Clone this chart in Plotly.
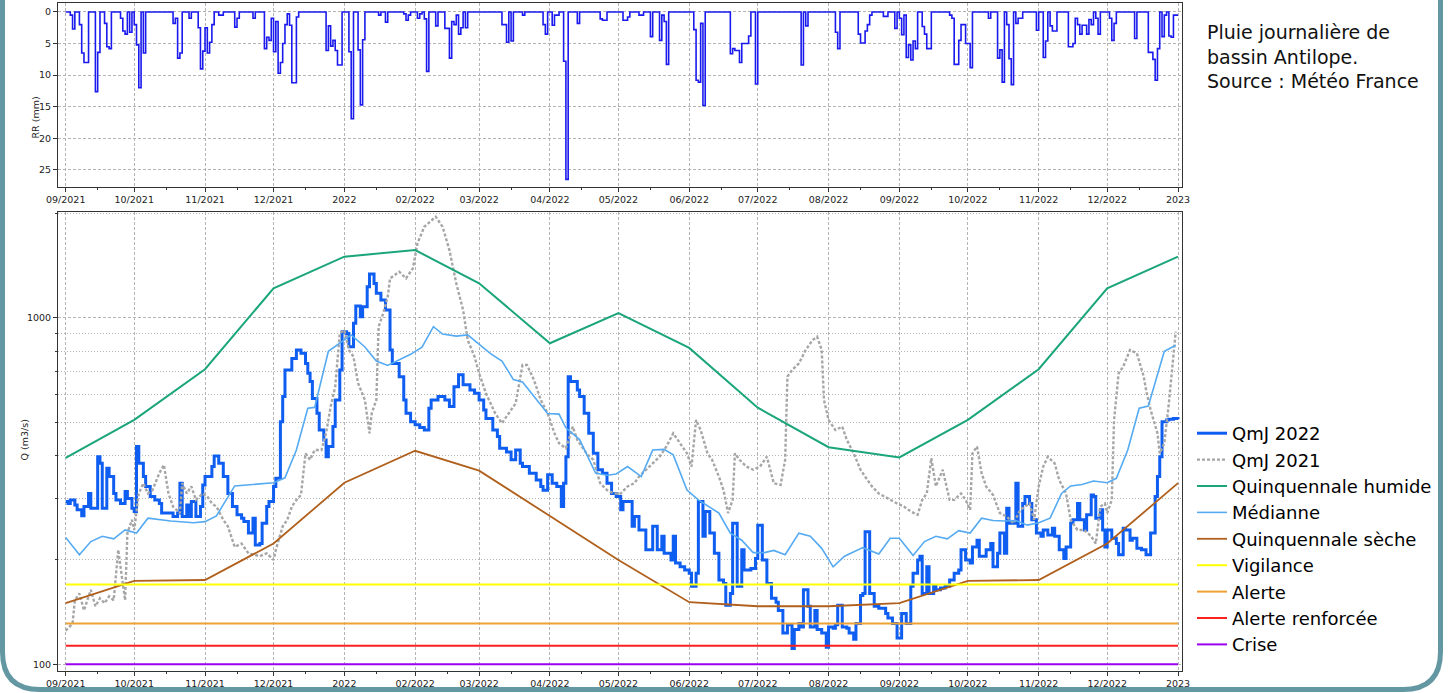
import plotly.graph_objects as go

W, H = 1456, 693

# pluie journalière de bassin (mm), tracée en marches
RAIN = [
    ("2021-09-01", 0), ("2021-09-03", 0.5), ("2021-09-04", 2.7), ("2021-09-05", 0), ("2021-09-07", 2),
    ("2021-09-08", 6.5), ("2021-09-09", 8), ("2021-09-11", 0), ("2021-09-14", 12.6), ("2021-09-15", 6.4),
    ("2021-09-16", 0), ("2021-09-18", 1.8), ("2021-09-19", 5.5), ("2021-09-20", 5.8), ("2021-09-21", 0),
    ("2021-09-25", 1), ("2021-09-26", 3), ("2021-09-27", 3.5), ("2021-09-28", 0), ("2021-09-29", 3.2),
    ("2021-09-30", 0), ("2021-10-01", 2), ("2021-10-02", 5.2), ("2021-10-03", 12), ("2021-10-04", 0),
    ("2021-10-05", 6.5), ("2021-10-06", 0), ("2021-10-18", 1.8), ("2021-10-19", 1), ("2021-10-20", 7.3),
    ("2021-10-21", 6.5), ("2021-10-22", 0), ("2021-10-25", 1), ("2021-10-26", 0), ("2021-10-29", 2.5),
    ("2021-10-30", 9), ("2021-10-31", 6.2), ("2021-11-01", 2.5), ("2021-11-02", 6.5), ("2021-11-03", 4.8),
    ("2021-11-04", 2), ("2021-11-05", 0), ("2021-11-07", 0.5), ("2021-11-09", 0), ("2021-11-14", 2.4),
    ("2021-11-15", 1), ("2021-11-16", 0), ("2021-11-22", 1), ("2021-11-23", 0), ("2021-11-27", 5.8),
    ("2021-11-28", 4), ("2021-11-29", 4.5), ("2021-11-30", 1), ("2021-12-01", 6.3), ("2021-12-02", 1.5),
    ("2021-12-03", 9.7), ("2021-12-04", 8), ("2021-12-05", 5), ("2021-12-06", 2), ("2021-12-07", 0.3),
    ("2021-12-08", 2.1), ("2021-12-09", 11.2), ("2021-12-11", 0.8), ("2021-12-12", 0), ("2021-12-24", 6.1),
    ("2021-12-25", 2.2), ("2021-12-26", 5.4), ("2021-12-27", 4.5), ("2021-12-28", 6.1), ("2021-12-29", 8.4),
    ("2021-12-31", 0), ("2022-01-03", 6.3), ("2022-01-04", 16.9), ("2022-01-05", 0), ("2022-01-07", 6),
    ("2022-01-08", 14.7), ("2022-01-09", 4.4), ("2022-01-10", 0), ("2022-01-16", 0.5), ("2022-01-17", 0),
    ("2022-01-19", 1.6), ("2022-01-20", 0), ("2022-01-27", 0.3), ("2022-01-28", 1.3), ("2022-01-29", 0.5),
    ("2022-01-30", 0), ("2022-02-02", 1), ("2022-02-03", 0.3), ("2022-02-04", 0), ("2022-02-05", 1.1),
    ("2022-02-06", 9.4), ("2022-02-07", 0), ("2022-02-10", 2.2), ("2022-02-11", 0), ("2022-02-14", 2.6),
    ("2022-02-16", 7.3), ("2022-02-17", 1.5), ("2022-02-18", 2), ("2022-02-19", 0.5), ("2022-02-20", 3.5),
    ("2022-02-21", 2.5), ("2022-02-22", 0), ("2022-02-23", 2.5), ("2022-02-24", 0), ("2022-03-11", 2),
    ("2022-03-13", 4.8), ("2022-03-14", 0), ("2022-03-15", 4.6), ("2022-03-16", 0), ("2022-03-20", 0.5),
    ("2022-03-21", 0), ("2022-03-29", 2), ("2022-03-30", 3.5), ("2022-03-31", 0), ("2022-04-02", 2.1),
    ("2022-04-03", 0.5), ("2022-04-05", 0), ("2022-04-07", 7.8), ("2022-04-08", 26.5), ("2022-04-09", 0),
    ("2022-04-13", 1.8), ("2022-04-14", 0), ("2022-04-23", 1.1), ("2022-04-24", 1.3), ("2022-04-26", 0),
    ("2022-05-03", 1.3), ("2022-05-05", 0.8), ("2022-05-06", 0), ("2022-05-10", 0.5), ("2022-05-12", 0),
    ("2022-05-15", 3.9), ("2022-05-16", 0), ("2022-05-19", 4.5), ("2022-05-20", 0.5), ("2022-05-21", 1.5),
    ("2022-05-22", 8.3), ("2022-05-23", 0), ("2022-06-03", 2.8), ("2022-06-04", 10.8), ("2022-06-05", 11.1),
    ("2022-06-06", 1.8), ("2022-06-07", 14.8), ("2022-06-08", 0), ("2022-06-19", 6.6), ("2022-06-20", 5.8),
    ("2022-06-21", 6.1), ("2022-06-23", 8), ("2022-06-24", 5), ("2022-06-27", 3.8), ("2022-06-28", 0),
    ("2022-06-30", 11.4), ("2022-07-01", 0), ("2022-07-20", 8.4), ("2022-07-21", 0), ("2022-07-22", 2.2),
    ("2022-07-23", 0), ("2022-08-04", 3.2), ("2022-08-05", 5.8), ("2022-08-06", 0), ("2022-08-14", 3.5),
    ("2022-08-15", 4.9), ("2022-08-17", 3), ("2022-08-18", 2), ("2022-08-19", 0.5), ("2022-08-20", 0),
    ("2022-08-25", 0.7), ("2022-08-27", 0), ("2022-08-30", 2.6), ("2022-08-31", 0), ("2022-09-01", 1),
    ("2022-09-02", 3.6), ("2022-09-03", 0.5), ("2022-09-04", 7.2), ("2022-09-05", 5.2), ("2022-09-06", 7.6),
    ("2022-09-07", 4.6), ("2022-09-08", 5.8), ("2022-09-09", 0), ("2022-09-11", 2.3), ("2022-09-12", 3.5),
    ("2022-09-13", 5.8), ("2022-09-15", 0), ("2022-09-23", 0.5), ("2022-09-24", 1), ("2022-09-25", 8.3),
    ("2022-09-27", 4.5), ("2022-09-28", 2), ("2022-09-30", 5), ("2022-10-02", 8.8), ("2022-10-03", 0),
    ("2022-10-10", 1), ("2022-10-11", 0), ("2022-10-14", 7.3), ("2022-10-15", 6), ("2022-10-16", 11.1),
    ("2022-10-17", 0), ("2022-10-18", 2), ("2022-10-19", 7.4), ("2022-10-20", 11.5), ("2022-10-21", 0),
    ("2022-10-22", 1.8), ("2022-10-23", 1), ("2022-10-25", 0), ("2022-10-31", 2.9), ("2022-11-01", 0),
    ("2022-11-03", 7.2), ("2022-11-04", 4.6), ("2022-11-05", 0), ("2022-11-06", 2.2), ("2022-11-07", 3),
    ("2022-11-09", 0), ("2022-11-14", 5.5), ("2022-11-16", 5), ("2022-11-17", 1), ("2022-11-18", 2),
    ("2022-11-19", 3.5), ("2022-11-20", 2.1), ("2022-11-22", 3.5), ("2022-11-23", 1.2), ("2022-11-24", 2),
    ("2022-11-25", 0), ("2022-11-26", 1), ("2022-11-27", 3.5), ("2022-11-28", 0), ("2022-12-02", 1),
    ("2022-12-03", 4.5), ("2022-12-04", 1.8), ("2022-12-05", 0), ("2022-12-13", 4.2), ("2022-12-14", 0),
    ("2022-12-19", 6.4), ("2022-12-21", 7.5), ("2022-12-22", 10.8), ("2022-12-23", 5.8), ("2022-12-24", 0),
    ("2022-12-25", 3.9), ("2022-12-26", 0.5), ("2022-12-27", 0), ("2022-12-28", 3.8), ("2022-12-29", 4),
    ("2022-12-30", 0.5), ("2023-01-01", 0.5),
]

# débit moyen journalier 2022 (m3/s)
QMJ_2022 = [
    ("2021-09-01", 295), ("2021-09-02", 291), ("2021-09-03", 298), ("2021-09-05", 288), ("2021-09-06", 279),
    ("2021-09-08", 268), ("2021-09-09", 285), ("2021-09-11", 311), ("2021-09-12", 282), ("2021-09-15", 397),
    ("2021-09-16", 380), ("2021-09-17", 282), ("2021-09-19", 368), ("2021-09-20", 348), ("2021-09-22", 311),
    ("2021-09-23", 298), ("2021-09-25", 291), ("2021-09-27", 315), ("2021-09-28", 301), ("2021-09-30", 282),
    ("2021-10-01", 276), ("2021-10-02", 425), ("2021-10-03", 380), ("2021-10-05", 348), ("2021-10-06", 326),
    ("2021-10-08", 305), ("2021-10-10", 298), ("2021-10-12", 291), ("2021-10-13", 273), ("2021-10-18", 267),
    ("2021-10-20", 273), ("2021-10-21", 333), ("2021-10-22", 267), ("2021-10-24", 288), ("2021-10-25", 267),
    ("2021-10-26", 295), ("2021-10-28", 267), ("2021-10-30", 285), ("2021-10-31", 329), ("2021-11-01", 348),
    ("2021-11-04", 372), ("2021-11-05", 399), ("2021-11-07", 380), ("2021-11-09", 348), ("2021-11-11", 311),
    ("2021-11-13", 285), ("2021-11-15", 270), ("2021-11-17", 264), ("2021-11-18", 258), ("2021-11-20", 239),
    ("2021-11-22", 264), ("2021-11-23", 221), ("2021-11-25", 223), ("2021-11-26", 255), ("2021-11-28", 285),
    ("2021-11-29", 295), ("2021-12-01", 326), ("2021-12-02", 344), ("2021-12-04", 501), ("2021-12-05", 592),
    ("2021-12-06", 706), ("2021-12-09", 763), ("2021-12-11", 807), ("2021-12-13", 789), ("2021-12-15", 738),
    ("2021-12-16", 691), ("2021-12-17", 654), ("2021-12-18", 585), ("2021-12-20", 530), ("2021-12-21", 474),
    ("2021-12-23", 444), ("2021-12-24", 397), ("2021-12-25", 425), ("2021-12-27", 485), ("2021-12-28", 579),
    ("2021-12-30", 706), ("2021-12-31", 911), ("2022-01-02", 901), ("2022-01-03", 825), ("2022-01-05", 963),
    ("2022-01-06", 1081), ("2022-01-08", 1007), ("2022-01-09", 1076), ("2022-01-11", 1229), ("2022-01-12", 1336),
    ("2022-01-14", 1256), ("2022-01-15", 1176), ("2022-01-17", 1125), ("2022-01-19", 1052), ("2022-01-21", 807),
    ("2022-01-22", 738), ("2022-01-25", 676), ("2022-01-27", 579), ("2022-01-28", 530), ("2022-01-30", 501),
    ("2022-02-01", 491), ("2022-02-03", 482), ("2022-02-05", 474), ("2022-02-07", 548), ("2022-02-08", 579),
    ("2022-02-11", 592), ("2022-02-14", 579), ("2022-02-16", 554), ("2022-02-18", 632), ("2022-02-20", 684),
    ("2022-02-22", 640), ("2022-02-25", 619), ("2022-02-27", 605), ("2022-03-01", 579), ("2022-03-03", 542),
    ("2022-03-04", 512), ("2022-03-07", 474), ("2022-03-09", 454), ("2022-03-10", 420), ("2022-03-13", 410),
    ("2022-03-15", 389), ("2022-03-17", 415), ("2022-03-19", 380), ("2022-03-20", 372), ("2022-03-23", 356),
    ("2022-03-26", 340), ("2022-03-28", 326), ("2022-03-29", 318), ("2022-03-31", 352), ("2022-04-02", 333),
    ("2022-04-04", 326), ("2022-04-06", 285), ("2022-04-07", 333), ("2022-04-08", 397), ("2022-04-09", 676),
    ("2022-04-10", 654), ("2022-04-13", 619), ("2022-04-14", 592), ("2022-04-16", 530), ("2022-04-18", 464),
    ("2022-04-20", 406), ("2022-04-22", 364), ("2022-04-24", 356), ("2022-04-26", 333), ("2022-04-28", 311),
    ("2022-04-30", 305), ("2022-05-02", 279), ("2022-05-03", 295), ("2022-05-07", 250), ("2022-05-08", 267),
    ("2022-05-10", 244), ("2022-05-13", 214), ("2022-05-16", 250), ("2022-05-18", 214), ("2022-05-20", 234),
    ("2022-05-21", 209), ("2022-05-24", 200), ("2022-05-25", 234), ("2022-05-26", 196), ("2022-05-28", 191),
    ("2022-05-30", 187), ("2022-06-01", 183), ("2022-06-02", 168), ("2022-06-04", 183), ("2022-06-05", 295),
    ("2022-06-07", 234), ("2022-06-08", 276), ("2022-06-10", 239), ("2022-06-12", 209), ("2022-06-14", 175),
    ("2022-06-16", 171), ("2022-06-17", 148), ("2022-06-19", 160), ("2022-06-20", 255), ("2022-06-22", 168),
    ("2022-06-24", 214), ("2022-06-25", 187), ("2022-06-28", 189), ("2022-06-30", 202), ("2022-07-01", 252),
    ("2022-07-03", 200), ("2022-07-05", 171), ("2022-07-07", 155), ("2022-07-09", 151), ("2022-07-10", 143),
    ("2022-07-12", 123), ("2022-07-14", 130), ("2022-07-16", 111), ("2022-07-17", 126), ("2022-07-19", 131),
    ("2022-07-20", 128), ("2022-07-21", 164), ("2022-07-23", 147), ("2022-07-24", 128), ("2022-07-26", 143),
    ("2022-07-27", 126), ("2022-07-29", 123), ("2022-07-31", 112), ("2022-08-01", 128), ("2022-08-03", 127),
    ("2022-08-04", 130), ("2022-08-05", 148), ("2022-08-07", 128), ("2022-08-09", 127), ("2022-08-10", 123),
    ("2022-08-12", 118), ("2022-08-13", 131), ("2022-08-15", 158), ("2022-08-16", 160), ("2022-08-17", 241),
    ("2022-08-19", 160), ("2022-08-21", 147), ("2022-08-23", 145), ("2022-08-26", 140), ("2022-08-27", 136),
    ("2022-08-29", 131), ("2022-08-31", 119), ("2022-09-02", 140), ("2022-09-04", 131), ("2022-09-06", 168),
    ("2022-09-07", 183), ("2022-09-09", 200), ("2022-09-10", 205), ("2022-09-11", 160), ("2022-09-13", 191),
    ("2022-09-14", 160), ("2022-09-16", 168), ("2022-09-17", 164), ("2022-09-19", 166), ("2022-09-21", 168),
    ("2022-09-23", 175), ("2022-09-25", 183), ("2022-09-27", 187), ("2022-09-28", 214), ("2022-09-30", 200),
    ("2022-10-02", 196), ("2022-10-03", 218), ("2022-10-05", 228), ("2022-10-06", 205), ("2022-10-09", 214),
    ("2022-10-11", 223), ("2022-10-12", 191), ("2022-10-14", 209), ("2022-10-15", 239), ("2022-10-17", 209),
    ("2022-10-18", 282), ("2022-10-19", 255), ("2022-10-22", 333), ("2022-10-23", 250), ("2022-10-25", 291),
    ("2022-10-26", 305), ("2022-10-28", 291), ("2022-10-29", 261), ("2022-10-31", 239), ("2022-11-02", 234),
    ("2022-11-03", 244), ("2022-11-05", 236), ("2022-11-07", 247), ("2022-11-08", 234), ("2022-11-10", 214),
    ("2022-11-12", 202), ("2022-11-13", 218), ("2022-11-15", 255), ("2022-11-16", 261), ("2022-11-18", 291),
    ("2022-11-19", 261), ("2022-11-21", 244), ("2022-11-22", 270), ("2022-11-24", 308), ("2022-11-25", 305),
    ("2022-11-26", 264), ("2022-11-28", 279), ("2022-11-29", 244), ("2022-11-30", 218), ("2022-12-01", 244),
    ("2022-12-03", 231), ("2022-12-05", 223), ("2022-12-06", 207), ("2022-12-08", 247), ("2022-12-09", 244),
    ("2022-12-11", 228), ("2022-12-12", 231), ("2022-12-14", 216), ("2022-12-16", 214), ("2022-12-18", 207),
    ("2022-12-20", 239), ("2022-12-22", 305), ("2022-12-23", 348), ("2022-12-24", 397), ("2022-12-25", 501),
    ("2022-12-27", 507), ("2022-12-28", 509), ("2022-12-30", 512), ("2023-01-01", 509),
]

# débit de l'année précédente, recalé sur la même période
QMJ_2021 = [
    ("2021-09-01", 125), ("2021-09-02", 127), ("2021-09-04", 131), ("2021-09-05", 153), ("2021-09-07", 160),
    ("2021-09-09", 143), ("2021-09-12", 164), ("2021-09-14", 147), ("2021-09-16", 155), ("2021-09-18", 150),
    ("2021-09-20", 157), ("2021-09-22", 153), ("2021-09-24", 214), ("2021-09-25", 191), ("2021-09-27", 153),
    ("2021-09-28", 239), ("2021-09-30", 261), ("2021-10-01", 244), ("2021-10-03", 311), ("2021-10-05", 333),
    ("2021-10-07", 311), ("2021-10-09", 318), ("2021-10-12", 356), ("2021-10-14", 376), ("2021-10-16", 311),
    ("2021-10-18", 285), ("2021-10-21", 273), ("2021-10-22", 333), ("2021-10-24", 311), ("2021-10-26", 326),
    ("2021-10-28", 298), ("2021-10-31", 311), ("2021-11-02", 305), ("2021-11-04", 291), ("2021-11-06", 285),
    ("2021-11-09", 261), ("2021-11-11", 250), ("2021-11-14", 218), ("2021-11-17", 223), ("2021-11-20", 209),
    ("2021-11-22", 207), ("2021-11-25", 205), ("2021-11-28", 209), ("2021-12-01", 200), ("2021-12-02", 214),
    ("2021-12-05", 250), ("2021-12-07", 261), ("2021-12-09", 285), ("2021-12-11", 298), ("2021-12-13", 308),
    ("2021-12-15", 406), ("2021-12-17", 389), ("2021-12-19", 415), ("2021-12-22", 415), ("2021-12-24", 464),
    ("2021-12-26", 554), ("2021-12-28", 632), ("2021-12-30", 901), ("2022-01-01", 921), ("2022-01-03", 807),
    ("2022-01-05", 772), ("2022-01-07", 647), ("2022-01-10", 579), ("2022-01-12", 464), ("2022-01-13", 530),
    ("2022-01-15", 579), ("2022-01-16", 942), ("2022-01-18", 1029), ("2022-01-20", 1150), ("2022-01-21", 1299),
    ("2022-01-25", 1357), ("2022-01-28", 1299), ("2022-01-31", 1388), ("2022-02-02", 1638), ("2022-02-05", 1830),
    ("2022-02-10", 1956), ("2022-02-13", 1830), ("2022-02-16", 1567), ("2022-02-19", 1256), ("2022-02-22", 1052),
    ("2022-02-24", 862), ("2022-02-27", 772), ("2022-03-01", 691), ("2022-03-04", 605), ("2022-03-08", 530),
    ("2022-03-11", 496), ("2022-03-14", 530), ("2022-03-17", 566), ("2022-03-20", 730), ("2022-03-22", 730),
    ("2022-03-25", 661), ("2022-03-28", 579), ("2022-03-31", 530), ("2022-04-03", 464), ("2022-04-05", 434),
    ("2022-04-08", 420), ("2022-04-11", 485), ("2022-04-13", 444), ("2022-04-17", 406), ("2022-04-20", 389),
    ("2022-04-23", 333), ("2022-04-26", 318), ("2022-04-29", 311), ("2022-05-02", 311), ("2022-05-05", 326),
    ("2022-05-08", 333), ("2022-05-10", 348), ("2022-05-13", 364), ("2022-05-16", 380), ("2022-05-19", 397),
    ("2022-05-22", 425), ("2022-05-25", 464), ("2022-05-28", 434), ("2022-05-31", 406), ("2022-06-02", 372),
    ("2022-06-04", 507), ("2022-06-06", 474), ("2022-06-09", 406), ("2022-06-11", 389), ("2022-06-14", 348),
    ("2022-06-16", 318), ("2022-06-18", 273), ("2022-06-20", 298), ("2022-06-21", 406), ("2022-06-23", 389),
    ("2022-06-26", 372), ("2022-06-29", 364), ("2022-07-02", 372), ("2022-07-05", 397), ("2022-07-08", 333),
    ("2022-07-11", 329), ("2022-07-13", 389), ("2022-07-14", 676), ("2022-07-16", 706), ("2022-07-19", 738),
    ("2022-07-22", 807), ("2022-07-25", 862), ("2022-07-27", 881), ("2022-07-29", 807), ("2022-07-30", 579),
    ("2022-08-01", 507), ("2022-08-02", 496), ("2022-08-04", 474), ("2022-08-07", 485), ("2022-08-09", 444),
    ("2022-08-12", 406), ("2022-08-15", 364), ("2022-08-17", 348), ("2022-08-20", 326), ("2022-08-23", 311),
    ("2022-08-28", 298), ("2022-08-31", 291), ("2022-09-03", 285), ("2022-09-06", 276), ("2022-09-09", 270),
    ("2022-09-11", 298), ("2022-09-13", 311), ("2022-09-15", 393), ("2022-09-17", 326), ("2022-09-20", 364),
    ("2022-09-23", 298), ("2022-09-25", 298), ("2022-09-28", 311), ("2022-09-30", 298), ("2022-10-02", 279),
    ("2022-10-03", 406), ("2022-10-05", 425), ("2022-10-07", 356), ("2022-10-09", 326), ("2022-10-12", 308),
    ("2022-10-15", 273), ("2022-10-18", 267), ("2022-10-21", 255), ("2022-10-24", 279), ("2022-10-28", 291),
    ("2022-10-30", 261), ("2022-11-01", 326), ("2022-11-03", 372), ("2022-11-05", 397), ("2022-11-08", 380),
    ("2022-11-10", 340), ("2022-11-13", 311), ("2022-11-15", 261), ("2022-11-18", 244), ("2022-11-21", 244),
    ("2022-11-24", 234), ("2022-11-26", 223), ("2022-11-28", 285), ("2022-11-30", 291), ("2022-12-01", 273),
    ("2022-12-03", 298), ("2022-12-04", 507), ("2022-12-06", 691), ("2022-12-08", 722), ("2022-12-11", 807),
    ("2022-12-14", 789), ("2022-12-17", 676), ("2022-12-18", 619), ("2022-12-20", 542), ("2022-12-23", 464),
    ("2022-12-24", 406), ("2022-12-26", 434), ("2022-12-28", 566), ("2022-12-30", 772), ("2022-12-31", 911),
]

MEDIANNE = [
    ("2021-09-01", 232), ("2021-09-07", 207), ("2021-09-12", 226), ("2021-09-17", 234), ("2021-09-22", 230),
    ("2021-09-27", 244), ("2021-10-02", 239), ("2021-10-07", 264), ("2021-10-17", 259), ("2021-10-27", 256),
    ("2021-11-01", 258), ("2021-11-06", 268), ("2021-11-14", 327), ("2021-11-22", 330), ("2021-12-01", 334),
    ("2021-12-06", 345), ("2021-12-11", 415), ("2021-12-16", 548), ("2021-12-19", 551), ("2021-12-25", 800),
    ("2022-01-04", 892), ("2022-01-10", 823), ("2022-01-15", 750), ("2022-01-20", 728), ("2022-01-23", 745),
    ("2022-01-30", 784), ("2022-02-04", 822), ("2022-02-09", 942), ("2022-02-13", 897), ("2022-02-19", 885),
    ("2022-02-24", 892), ("2022-03-06", 788), ("2022-03-11", 750), ("2022-03-16", 663), ("2022-03-20", 652),
    ("2022-03-31", 529), ("2022-04-05", 527), ("2022-04-08", 481), ("2022-04-14", 445), ("2022-04-21", 356),
    ("2022-04-26", 351), ("2022-04-30", 354), ("2022-05-05", 372), ("2022-05-11", 348), ("2022-05-16", 415),
    ("2022-05-21", 417), ("2022-05-25", 402), ("2022-05-31", 318), ("2022-06-05", 298), ("2022-06-14", 273),
    ("2022-06-19", 239), ("2022-06-24", 228), ("2022-06-29", 210), ("2022-07-04", 210), ("2022-07-08", 213),
    ("2022-07-13", 207), ("2022-07-19", 239), ("2022-07-24", 234), ("2022-07-29", 216), ("2022-08-03", 191),
    ("2022-08-08", 205), ("2022-08-16", 217), ("2022-08-23", 208), ("2022-08-28", 231), ("2022-09-01", 231),
    ("2022-09-07", 206), ("2022-09-12", 226), ("2022-09-17", 234), ("2022-09-22", 230), ("2022-09-27", 243),
    ("2022-10-02", 239), ("2022-10-07", 264), ("2022-10-12", 260), ("2022-10-17", 259), ("2022-10-22", 260),
    ("2022-10-27", 252), ("2022-11-01", 256), ("2022-11-06", 264), ("2022-11-11", 311), ("2022-11-15", 327),
    ("2022-11-20", 330), ("2022-11-25", 338), ("2022-12-01", 334), ("2022-12-05", 344), ("2022-12-10", 415),
    ("2022-12-15", 548), ("2022-12-19", 556), ("2022-12-26", 800), ("2022-12-31", 833),
]

MONTHS = ["2021-09-01", "2021-10-01", "2021-11-01", "2021-12-01", "2022-01-01", "2022-02-01",
          "2022-03-01", "2022-04-01", "2022-05-01", "2022-06-01", "2022-07-01", "2022-08-01",
          "2022-09-01", "2022-10-01", "2022-11-01", "2022-12-01", "2023-01-01"]
MONTH_LABELS = ["09/2021", "10/2021", "11/2021", "12/2021", "2022", "02/2022", "03/2022", "04/2022",
                "05/2022", "06/2022", "07/2022", "08/2022", "09/2022", "10/2022", "11/2022",
                "12/2022", "2023"]
QUINQ_HUMIDE = [394, 507, 710, 1216, 1500, 1567, 1257, 844, 1031, 818, 550, 423, 395, 507, 710, 1216, 1500]
QUINQ_SECHE = [150, 174, 175, 223, 334, 413, 362, 268, 200, 151, 147, 147, 150, 174, 175, 223, 333]

SEUIL_NOMS = ["Vigilance", "Alerte", "Alerte renforcée", "Crise"]
SEUIL_VALEURS = [170, 131, 113, 100]
SEUIL_COULEURS = ["#ffff00", "#eea235", "#ff1f1f", "#9b00f0"]


def px(x):
    return x / W


def py(y):
    return 1 - y / H


FONT = "DejaVu Sans"
X_RANGE = ["2021-08-28 15:00", "2023-01-02 18:00"]

fig = go.Figure()

fig.add_trace(go.Scatter(
    x=[d for d, v in RAIN], y=[v for d, v in RAIN], mode="lines",
    line=dict(color="#1a1aee", width=1.6, shape="hv"),
    showlegend=False, xaxis="x", yaxis="y"))

fig.add_trace(go.Scatter(
    x=[d for d, v in QMJ_2022], y=[v for d, v in QMJ_2022], name="QmJ 2022", mode="lines",
    line=dict(color="#0f5ef2", width=3, shape="hv"), xaxis="x2", yaxis="y2"))
fig.add_trace(go.Scatter(
    x=[d for d, v in QMJ_2021], y=[v for d, v in QMJ_2021], name="QmJ 2021", mode="lines",
    line=dict(color="#a6a6a6", width=2.4, dash="3px,2px"), xaxis="x2", yaxis="y2"))
fig.add_trace(go.Scatter(
    x=MONTHS, y=QUINQ_HUMIDE, name="Quinquennale humide", mode="lines",
    line=dict(color="#1aa57a", width=2), xaxis="x2", yaxis="y2"))
fig.add_trace(go.Scatter(
    x=[d for d, v in MEDIANNE], y=[v for d, v in MEDIANNE], name="Médianne", mode="lines",
    line=dict(color="#55aaf2", width=1.6), xaxis="x2", yaxis="y2"))
fig.add_trace(go.Scatter(
    x=MONTHS, y=QUINQ_SECHE, name="Quinquennale sèche", mode="lines",
    line=dict(color="#b0601c", width=1.8), xaxis="x2", yaxis="y2"))
for nom, val, col in zip(SEUIL_NOMS, SEUIL_VALEURS, SEUIL_COULEURS):
    fig.add_trace(go.Scatter(
        x=[MONTHS[0], MONTHS[-1]], y=[val, val], name=nom, mode="lines",
        line=dict(color=col, width=2), xaxis="x2", yaxis="y2"))

axis = dict(showline=True, linecolor="#333333", linewidth=1, mirror=True,
            ticks="outside", ticklen=4, tickcolor="#333333",
            tickfont=dict(family=FONT, size=9.5, color="#222222"),
            showgrid=True, gridcolor="#b4b4b4", gridwidth=1, griddash="3px,2px",
            zeroline=False, automargin=False)
xaxis = dict(axis, type="date", range=X_RANGE, tickmode="array", tickvals=MONTHS,
             ticktext=MONTH_LABELS,
             minor=dict(tick0="2021-09-15", dtick="M1", ticks="outside", ticklen=2,
                        tickcolor="#333333", showgrid=False))

fig.update_layout(
    width=W, height=H, margin=dict(l=0, r=0, t=0, b=0, autoexpand=False),
    paper_bgcolor="white", plot_bgcolor="white",
    xaxis=dict(xaxis, domain=[px(58), px(1182)], anchor="y"),
    yaxis=dict(axis, domain=[py(187), py(3)], range=[27.7, -1.42], anchor="x",
               tickvals=[0, 5, 10, 15, 20, 25]),
    xaxis2=dict(xaxis, domain=[px(58), px(1182)], anchor="y2"),
    yaxis2=dict(axis, domain=[py(671), py(212)], type="log", range=[1.9805, 3.305], anchor="x2",
                tickvals=[100, 1000], ticktext=["100", "1000"],
                minor=dict(tickvals=[200, 300, 400, 500, 600, 700, 800, 900, 2000],
                           ticks="outside", ticklen=2, tickcolor="#333333",
                           showgrid=True, gridcolor="#b4b4b4", griddash="1px,2px")),
    legend=dict(x=px(1192), y=py(415), xanchor="left", yanchor="top",
                font=dict(family=FONT, size=18, color="#000000"),
                bgcolor="rgba(0,0,0,0)", itemwidth=30, tracegroupgap=0, traceorder="normal"),
    showlegend=True,
)

fig.add_annotation(x=px(1205), y=py(19), xref="paper", yref="paper", xanchor="left", yanchor="top",
                   align="left", showarrow=False,
                   text="Pluie journalière de<br>bassin Antilope.<br>Source : Météo France",
                   font=dict(family=FONT, size=19, color="#111111"))
fig.add_annotation(x=px(27), y=py(95), xref="paper", yref="paper", textangle=-90, showarrow=False,
                   text="RR (mm)", font=dict(family=FONT, size=9.5, color="#222222"))
fig.add_annotation(x=px(16), y=py(440), xref="paper", yref="paper", textangle=-90, showarrow=False,
                   text="Q (m3/s)", font=dict(family=FONT, size=9.5, color="#222222"))


# cadre arrondi de la diapositive
def pt(x, y):
    return f"{px(x):.5f},{py(y):.5f}"


cadre = (f"M{pt(2.5, -5)} L{pt(2.5, 652)} Q{pt(2.5, 689.5)} {pt(40, 689.5)} "
         f"L{pt(1403, 689.5)} Q{pt(1440.5, 689.5)} {pt(1440.5, 652)} L{pt(1440.5, -5)}")
fig.add_shape(type="path", path=cadre, xref="paper", yref="paper",
              line=dict(color="#6398a2", width=5), fillcolor="rgba(0,0,0,0)")

fig.write_html("out.html", config={"displayModeBar": False},
               post_script="document.body.style.margin='0';")
